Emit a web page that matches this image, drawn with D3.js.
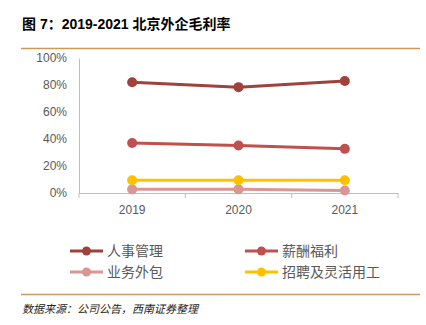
<!DOCTYPE html>
<html>
<head>
<meta charset="utf-8">
<script src="https://cdn.jsdelivr.net/npm/d3@7"></script>
<style>
  body { margin: 0; background: #fff; }
  text { font-family: "Liberation Sans", "Noto Sans CJK SC", sans-serif; }
  .tick text { fill: #595959; font-size: 12px; }
  .legend-label { fill: #595959; font-size: 14px; font-family: "Noto Sans CJK SC", sans-serif; }
</style>
</head>
<body>
<svg id="chart" width="426" height="325"></svg>
<script>
const years = ["2019", "2020", "2021"];
const seriesNames = ["人事管理", "薪酬福利", "业务外包", "招聘及灵活用工"];
const seriesColors = ["#a0413b", "#c0504d", "#d99694", "#ffc000"];
const hrManagement = [0.821, 0.784, 0.829];
const payroll = [0.370, 0.352, 0.327];
const outsourcing = [0.027, 0.027, 0.018];
const recruiting = [0.094, 0.094, 0.094];
const yTicks = [0, 0.2, 0.4, 0.6, 0.8, 1.0];

const series = [hrManagement, payroll, outsourcing, recruiting];

const svg = d3.select("#chart");
const margin = { top: 58, left: 79, right: 28, bottom: 132 };
const width = 426, height = 325;
const innerW = width - margin.left - margin.right;
const innerH = height - margin.top - margin.bottom;

// title and rules
svg.append("text")
  .attr("x", 22).attr("y", 29)
  .attr("font-size", 14).attr("font-weight", "bold")
  .attr("fill", "#000")
  .style("font-family", "'Liberation Sans', 'Noto Sans CJK SC', sans-serif")
  .text("图 7：2019-2021 北京外企毛利率");

svg.append("line")
  .attr("x1", 21).attr("x2", 420).attr("y1", 48.5).attr("y2", 48.5)
  .attr("stroke", "#c99a5b").attr("stroke-width", 1.5);

svg.append("line")
  .attr("x1", 21).attr("x2", 420).attr("y1", 294.5).attr("y2", 294.5)
  .attr("stroke", "#c99a5b").attr("stroke-width", 1.5);

svg.append("text")
  .attr("x", 22).attr("y", 313)
  .attr("font-size", 11).attr("font-style", "italic")
  .attr("fill", "#222")
  .style("font-family", "'Noto Sans CJK SC', sans-serif")
  .text("数据来源：公司公告，西南证券整理");

const g = svg.append("g")
  .attr("transform", `translate(${margin.left},${margin.top})`);

const x = d3.scaleBand().domain(years).range([0, innerW]);
const y = d3.scaleLinear().domain([0, 1]).range([innerH, 0]);

const yAxis = g.append("g")
  .call(d3.axisLeft(y).tickValues(yTicks).tickFormat(d3.format(".0%")).tickSize(0).tickPadding(12));
yAxis.select(".domain").attr("stroke", "#bfbfbf");

const xAxis = g.append("g")
  .attr("transform", `translate(0,${innerH})`)
  .call(d3.axisBottom(x).tickSize(0).tickPadding(12));
xAxis.select(".domain").attr("stroke", "#bfbfbf");

// tick marks between categories
g.selectAll(".xsep")
  .data([0, 1, 2, 3])
  .enter()
  .append("line")
  .attr("x1", d => d * x.step()).attr("x2", d => d * x.step())
  .attr("y1", innerH).attr("y2", innerH + 5)
  .attr("stroke", "#bfbfbf");

const line = d3.line()
  .x((d, i) => x(years[i]) + x.bandwidth() / 2)
  .y(d => y(d));

// draw order: back to front
const order = [2, 3, 1, 0];
order.forEach(k => {
  g.append("path")
    .datum(series[k])
    .attr("fill", "none")
    .attr("stroke", seriesColors[k])
    .attr("stroke-width", 3)
    .attr("d", line);
  g.selectAll(".pt" + k)
    .data(series[k])
    .enter()
    .append("circle")
    .attr("cx", (d, i) => x(years[i]) + x.bandwidth() / 2)
    .attr("cy", d => y(d))
    .attr("r", 5)
    .attr("fill", seriesColors[k]);
});

// legend
const legendPos = [[70, 251], [245, 251], [70, 272], [245, 272]];
seriesNames.forEach((name, k) => {
  const [lx, ly] = legendPos[k];
  const lg = svg.append("g").attr("transform", `translate(${lx},${ly})`);
  lg.append("line")
    .attr("x1", 0).attr("x2", 33).attr("y1", 0).attr("y2", 0)
    .attr("stroke", seriesColors[k]).attr("stroke-width", 3);
  lg.append("circle").attr("cx", 16.5).attr("cy", 0).attr("r", 4.5)
    .attr("fill", seriesColors[k]);
  lg.append("text")
    .attr("class", "legend-label")
    .attr("x", 37).attr("y", 0).attr("dy", "0.35em")
    .text(name);
});
</script>
</body>
</html>
